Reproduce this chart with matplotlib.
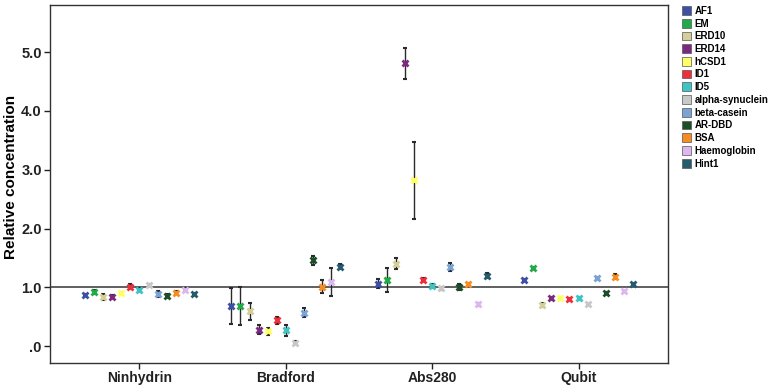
import numpy as np
import matplotlib
matplotlib.use("Agg")
import matplotlib.pyplot as plt
from matplotlib.patches import Patch

plt.rcParams['font.family'] = ['Liberation Sans', 'DejaVu Sans']
plt.rcParams['font.weight'] = 'bold'

# methods (x categories) and proteins (series)
methods = ["Ninhydrin", "Bradford", "Abs280", "Qubit"]
proteins = ["AF1", "EM", "ERD10", "ERD14", "hCSD1", "ID1", "ID5",
            "alpha-synuclein", "beta-casein", "AR-DBD", "BSA",
            "Haemoglobin", "Hint1"]
colors = ["#3E4FA6", "#22AA48", "#D4CF98", "#7B2A80", "#FFFF66", "#EE2E3A",
          "#3EC4C4", "#C8C8C8", "#7AA3D6", "#1C4F27", "#F68D22",
          "#DDB8F0", "#245B6D"]

# mean relative concentration, one list per method (order = proteins)
ninhydrin = [0.87, 0.92, 0.83, 0.84, 0.90, 1.01, 0.96, 1.04, 0.88, 0.86, 0.91, 0.96, 0.89]
bradford = [0.68, 0.68, 0.59, 0.28, 0.25, 0.44, 0.27, 0.06, 0.57, 1.46, 1.01, 1.09, 1.35]
abs280 = [1.06, 1.12, 1.40, 4.81, 2.82, 1.13, 1.02, 0.98, 1.34, 1.01, 1.05, 0.71, 1.20]
qubit = [1.13, 1.33, 0.70, 0.82, 0.81, 0.80, 0.82, 0.71, 1.16, 0.91, 1.18, 0.93, 1.06]

# error bar half-widths
ninhydrin_err = [0.02, 0.04, 0.05, 0.03, 0.02, 0.04, 0.02, 0.02, 0.05, 0.03, 0.02, 0.02, 0.02]
bradford_err = [0.31, 0.32, 0.14, 0.08, 0.06, 0.06, 0.09, 0.03, 0.08, 0.08, 0.11, 0.23, 0.04]
abs280_err = [0.08, 0.20, 0.09, 0.26, 0.65, 0.02, 0.04, 0.03, 0.07, 0.05, 0.03, 0.03, 0.05]
qubit_err = [0.01, 0.01, 0.03, 0.01, 0.01, 0.02, 0.01, 0.01, 0.01, 0.01, 0.04, 0.01, 0.01]

values = [ninhydrin, bradford, abs280, qubit]
errors = [ninhydrin_err, bradford_err, abs280_err, qubit_err]

fig = plt.figure(figsize=(7.72, 3.91), dpi=100)
ax = fig.add_axes([0.065, 0.072, 0.800, 0.915])

step = 0.062
n = len(proteins)
for j, (name, col) in enumerate(zip(proteins, colors)):
    xs = np.arange(len(methods)) + (j - (n - 1) / 2) * step
    ys = [v[j] for v in values]
    es = [e[j] for e in errors]
    ax.errorbar(xs, ys, yerr=es, fmt='none', ecolor='#2a2a2a',
                elinewidth=1.0, capsize=1.5, capthick=1.5, zorder=2)
    ax.plot(xs, ys, 'x', color=col, ms=5, mew=2.0, zorder=3)

ax.axhline(1.0, color='#444444', lw=1.2, zorder=1)

ax.set_xlim(-0.61, 3.61)
ax.set_ylim(-0.285, 5.80)
ax.set_xticks(range(len(methods)))
ax.set_xticklabels(methods, fontsize=10, fontweight='bold')
ax.set_yticks([0, 1, 2, 3, 4, 5])
ax.set_yticklabels([".0", "1.0", "2.0", "3.0", "4.0", "5.0"], fontsize=10.5, fontweight='bold')
ax.set_ylabel("Relative concentration", fontsize=11, fontweight='bold')
ax.yaxis.set_label_coords(-0.052, 0.52)
ax.tick_params(direction='out', length=4, width=1, colors='#222222', pad=2)
for s in ax.spines.values():
    s.set_color('#333333')
    s.set_linewidth(1.0)

handles = [Patch(facecolor=c, edgecolor='#555555', linewidth=0.5) for c in colors]
fig.legend(handles, proteins, loc='upper left', bbox_to_anchor=(0.878, 0.995),
           frameon=False, handlelength=1.0, handleheight=1.0,
           handletextpad=0.3, labelspacing=0.28, borderaxespad=0,
           prop={'weight': 'bold', 'size': 7})

fig.savefig("out.png", dpi=100)
